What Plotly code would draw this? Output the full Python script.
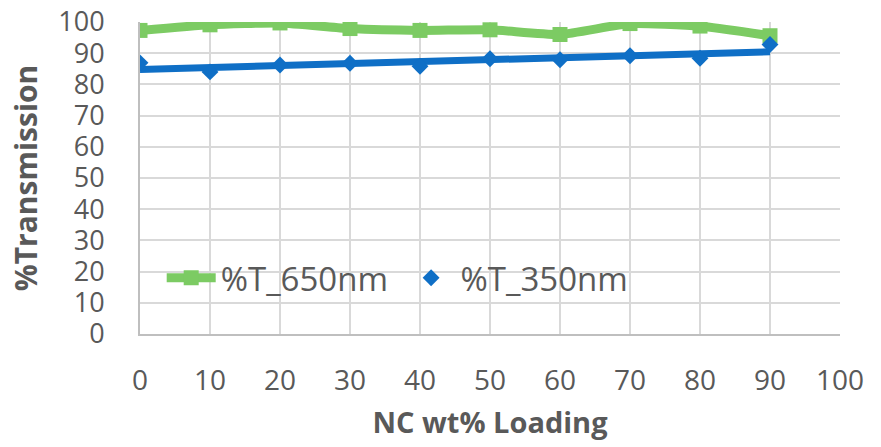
import numpy as np
import plotly.graph_objects as go

# NC loading (wt%) and measured transmission at two wavelengths
loading = [0, 10, 20, 30, 40, 50, 60, 70, 80, 90]
t_650 = [97.3, 99.1, 99.7, 97.9, 97.3, 97.5, 96.0, 99.5, 98.7, 95.6]
t_350 = [86.9, 84.0, 86.2, 86.8, 85.8, 88.2, 87.9, 89.2, 88.4, 92.8]

x_ticks = [0, 10, 20, 30, 40, 50, 60, 70, 80, 90, 100]
y_ticks = [0, 10, 20, 30, 40, 50, 60, 70, 80, 90, 100]

GREEN = "#7CCB63"
BLUE = "#0F6FC6"
TEXT = "#595959"
GRID = "#D9D9D9"

# linear trendline through the 350 nm points
slope, intercept = np.polyfit(loading, t_350, 1)
trend_x = [loading[0], loading[-1]]
trend_y = [intercept + slope * v for v in trend_x]

fig = go.Figure()
fig.add_trace(go.Scatter(
    x=loading, y=t_650, name="%T_650nm\u00a0", mode="lines+markers",
    line=dict(color=GREEN, width=9, shape="spline", smoothing=0.5),
    marker=dict(symbol="square", size=15, color=GREEN),
))
fig.add_trace(go.Scatter(
    x=trend_x, y=trend_y, mode="lines", showlegend=False,
    line=dict(color=BLUE, width=7), hoverinfo="skip",
))
fig.add_trace(go.Scatter(
    x=loading, y=t_350, name="%T_350nm", mode="markers",
    marker=dict(symbol="diamond", size=13, color=BLUE),
))

fig.update_layout(
    width=881, height=447,
    margin=dict(l=140, r=41, t=22, b=113),
    paper_bgcolor="white", plot_bgcolor="white",
    font=dict(family="Open Sans, sans-serif", color=TEXT),
    showlegend=True,
    legend=dict(
        orientation="h", x=0.031, y=0.18, xanchor="left", yanchor="middle",
        font=dict(size=33, color=TEXT, family="Open Sans, sans-serif"),
        bgcolor="rgba(0,0,0,0)", itemwidth=49, tracegroupgap=0,
    ),
)
fig.update_xaxes(
    range=[0, 100], tickvals=x_ticks, showgrid=True, gridcolor=GRID, gridwidth=2,
    showline=True, linecolor="#BFBFBF", linewidth=2, zeroline=False,
    tickfont=dict(size=28, color=TEXT), automargin=False,
    ticks="", ticklabelstandoff=20,
    title=dict(text="<b>NC wt% Loading</b>", font=dict(size=29, color=TEXT), standoff=16),
)
fig.update_yaxes(
    range=[0, 100], tickvals=y_ticks, showgrid=True, gridcolor=GRID, gridwidth=2,
    showline=True, linecolor="#BFBFBF", linewidth=2, zeroline=False,
    tickfont=dict(size=27, color=TEXT), automargin=False,
    ticks="", ticklabelstandoff=28,
    title=dict(text="<b>%Transmission</b>", font=dict(size=30, color=TEXT), standoff=12),
)

fig.write_html("out.html")
